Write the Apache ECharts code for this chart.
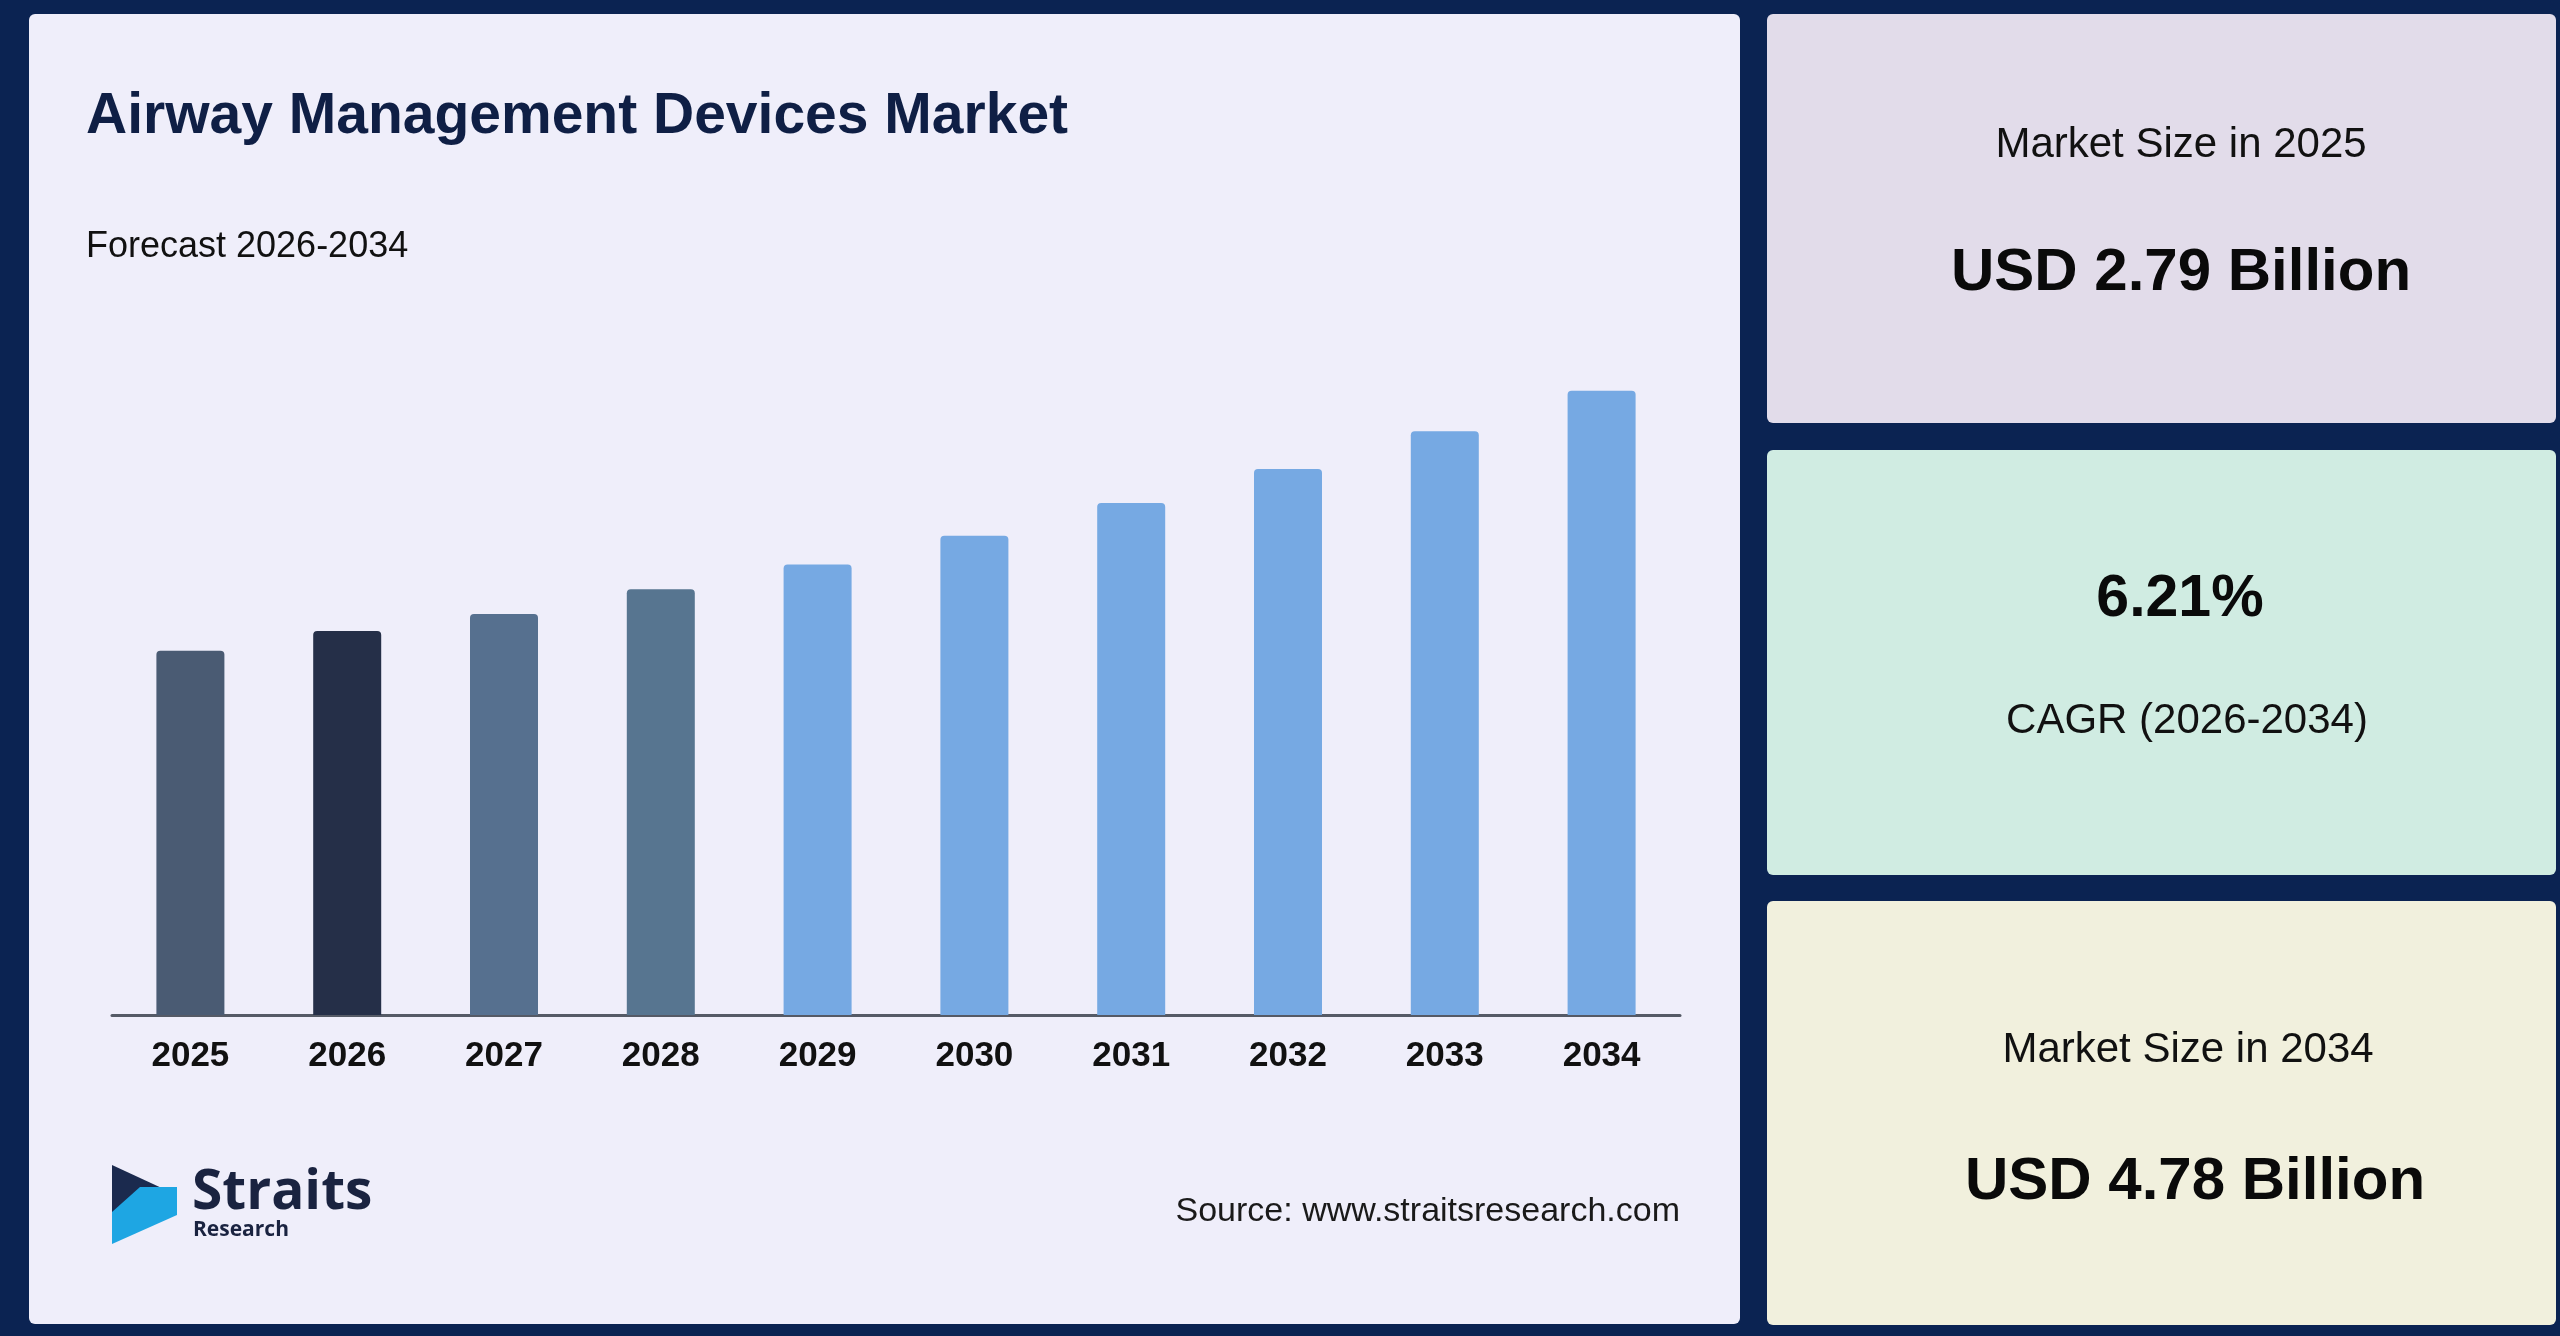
<!DOCTYPE html>
<html>
<head>
<meta charset="utf-8">
<title>Airway Management Devices Market</title>
<script src="https://cdn.jsdelivr.net/npm/echarts@6/dist/echarts.min.js"></script>
<style>
  html, body { margin: 0; padding: 0; background: #0b2352; }
  #main { width: 2560px; height: 1336px; }
</style>
</head>
<body>
<div id="main"></div>
<script>
// data (USD billion)
var years = ["2025", "2026", "2027", "2028", "2029", "2030", "2031", "2032", "2033", "2034"];
var marketSize = [2.79, 2.94, 3.07, 3.26, 3.45, 3.67, 3.92, 4.18, 4.47, 4.78];

// summary cards
var cardTitles = ["Market Size in 2025", "6.21%", "Market Size in 2034"];
var cardValues = ["USD 2.79 Billion", "CAGR (2026-2034)", "USD 4.78 Billion"];

(function () {
  var myChart = echarts.init(document.getElementById("main"));

  // first bars are darker slate tones, forecast bars light blue
  var palette = ["#4a5b73", "#252f48", "#56708f", "#577590"];
  var forecastColor = "#76a9e3";

  var sans = "'Liberation Sans', Arial, sans-serif";

  var graphics = [
    // panels
    { type: "rect", z: -10, shape: { x: 29, y: 14, width: 1711, height: 1310, r: 6 }, style: { fill: "#efeefa" } },
    { type: "rect", z: -10, shape: { x: 1767, y: 14, width: 789, height: 409, r: 6 }, style: { fill: "#e2dcea" } },
    { type: "rect", z: -10, shape: { x: 1767, y: 450, width: 789, height: 425, r: 6 }, style: { fill: "#d0ece2" } },
    { type: "rect", z: -10, shape: { x: 1767, y: 901, width: 789, height: 424, r: 6 }, style: { fill: "#f1f0dd" } },

    // titles
    { type: "text", x: 86, y: 117, style: { text: "Airway Management Devices Market", font: "bold 57px " + sans, fill: "#0f1f45", textVerticalAlign: "middle" } },
    { type: "text", x: 86, y: 247, style: { text: "Forecast 2026-2034", font: "36px " + sans, fill: "#111111", textVerticalAlign: "middle" } },
    { type: "text", x: 1680, y: 1212, style: { text: "Source: www.straitsresearch.com", font: "34px " + sans, fill: "#1a1a1a", textAlign: "right", textVerticalAlign: "middle" } },

    // logo
    { type: "polygon", shape: { points: [[112, 1165], [166, 1190], [112, 1213]] }, style: { fill: "#1b2a4e" } },
    { type: "polygon", shape: { points: [[112, 1212], [140, 1187], [177, 1187], [177, 1215], [112, 1244]] }, style: { fill: "#1ea6e3" } },
    { type: "text", x: 192, y: 1193, style: { text: "Straits", font: "bold 55px 'Open Sans', sans-serif", fill: "#1a2340", textVerticalAlign: "middle" } },
    { type: "text", x: 193, y: 1230, style: { text: "Research", font: "bold 21px 'Open Sans', sans-serif", fill: "#1a2340", textVerticalAlign: "middle" } },

    // cards
    { type: "text", x: 2181, y: 145, style: { text: cardTitles[0], font: "42px " + sans, fill: "#111111", textAlign: "center", textVerticalAlign: "middle" } },
    { type: "text", x: 2181, y: 273, style: { text: cardValues[0], font: "bold 60px " + sans, fill: "#0a0a0a", textAlign: "center", textVerticalAlign: "middle" } },
    { type: "text", x: 2180, y: 600, style: { text: cardTitles[1], font: "bold 59px " + sans, fill: "#0a0a0a", textAlign: "center", textVerticalAlign: "middle" } },
    { type: "text", x: 2187, y: 721, style: { text: cardValues[1], font: "42px " + sans, fill: "#111111", textAlign: "center", textVerticalAlign: "middle" } },
    { type: "text", x: 2188, y: 1050, style: { text: cardTitles[2], font: "42px " + sans, fill: "#111111", textAlign: "center", textVerticalAlign: "middle" } },
    { type: "text", x: 2195, y: 1182, style: { text: cardValues[2], font: "bold 60px " + sans, fill: "#0a0a0a", textAlign: "center", textVerticalAlign: "middle" } }
  ];

  myChart.setOption({
    backgroundColor: "#0b2352",
    animation: false,
    graphic: graphics,
    grid: {
      left: 112,
      right: 880,
      top: 362,
      bottom: 321,
    },
    xAxis: {
      type: "category",
      data: years,
      axisLine: { show: true, lineStyle: { color: "#555a66", width: 3 } },
      axisTick: { show: false },
      axisLabel: {
        color: "#111111",
        fontFamily: sans,
        fontWeight: "bold",
        fontSize: 35,
        margin: 24,
      },
    },
    yAxis: {
      type: "value",
      min: 0,
      max: 5,
      show: false,
      splitLine: { show: false },
    },
    series: [
      {
        type: "bar",
        data: marketSize,
        barWidth: 68,
        itemStyle: {
          borderRadius: [4, 4, 0, 0],
          color: function (p) {
            return p.dataIndex < palette.length ? palette[p.dataIndex] : forecastColor;
          },
        },
      },
    ],
  });

  window.addEventListener("resize", function () {
    myChart.resize();
  });
})();
</script>
</body>
</html>
